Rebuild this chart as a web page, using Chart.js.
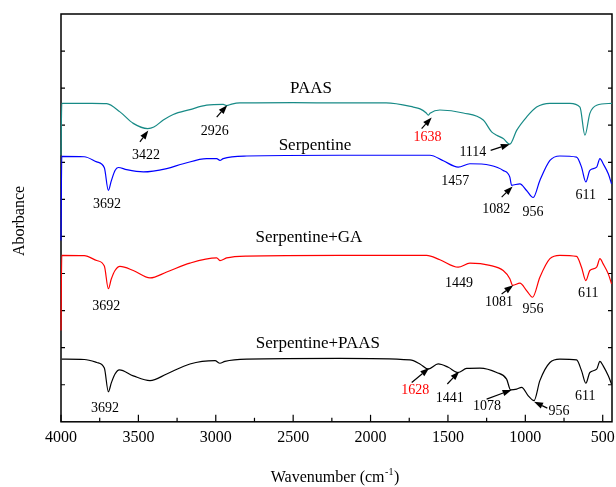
<!DOCTYPE html>
<html>
<head>
<meta charset="utf-8">
<script src="https://cdn.jsdelivr.net/npm/chart.js@4.4.0/dist/chart.umd.min.js"></script>
<style>
  html, body { margin: 0; padding: 0; background: #fff; }
  canvas { display: block; }
</style>
</head>
<body>
<canvas id="myChart" width="616" height="487"></canvas>
<script>
// spectra (wavenumber, offset absorbance)
const paasWn = [4000, 3995, 3800, 3705, 3619, 3533, 3440, 3400, 3339, 3275, 3167, 3059, 2952, 2930, 2897, 2844, 2500, 2200, 1900, 1724, 1680, 1640, 1627, 1616, 1552, 1401, 1272, 1218, 1185, 1143, 1100, 1056, 992, 927, 841, 712, 647, 615, 583, 539, 440];
const paasAbs = [7.19, 8.59, 8.59, 8.58, 8.36, 8.05, 7.91, 7.95, 8.14, 8.29, 8.42, 8.54, 8.56, 8.53, 8.57, 8.6, 8.61, 8.6, 8.6, 8.49, 8.44, 8.33, 8.27, 8.32, 8.41, 8.33, 8.14, 7.82, 7.73, 7.64, 7.49, 7.86, 8.22, 8.49, 8.59, 8.59, 8.49, 7.73, 8.32, 8.54, 8.59];

const serpWn = [4000, 3995, 3850, 3769, 3720, 3694, 3675, 3651, 3630, 3576, 3468, 3317, 3210, 3059, 2994, 2973, 2952, 2800, 2198, 1616, 1530, 1434, 1358, 1229, 1143, 1100, 1089, 1035, 992, 949, 906, 841, 777, 669, 637, 609, 583, 539, 518, 497, 464, 443];
const serpAbs = [4.89, 7.16, 7.15, 7.01, 6.85, 6.24, 6.5, 6.78, 6.86, 6.8, 6.74, 6.83, 6.96, 7.1, 7.1, 7.05, 7.1, 7.17, 7.19, 7.19, 7.04, 6.87, 6.96, 6.92, 6.78, 6.6, 6.38, 6.42, 6.24, 6.05, 6.51, 7.05, 7.17, 7.14, 6.87, 6.47, 6.78, 6.87, 7.1, 6.96, 6.69, 6.42];

const gaWn = [4000, 3995, 3850, 3769, 3720, 3694, 3675, 3651, 3619, 3533, 3425, 3317, 3167, 2994, 2973, 2930, 2800, 2198, 1638, 1552, 1434, 1358, 1229, 1143, 1100, 1082, 1035, 992, 953, 906, 841, 777, 669, 637, 609, 583, 539, 518, 497, 464, 443];
const gaAbs = [2.46, 4.49, 4.48, 4.35, 4.2, 3.59, 3.85, 4.08, 4.19, 4.08, 3.88, 4.04, 4.28, 4.42, 4.35, 4.42, 4.47, 4.49, 4.49, 4.37, 4.17, 4.28, 4.22, 4.08, 3.86, 3.68, 3.74, 3.54, 3.36, 3.9, 4.4, 4.49, 4.46, 4.17, 3.81, 4.08, 4.17, 4.4, 4.26, 3.99, 3.72];

const spWn = [3995, 3850, 3769, 3720, 3694, 3675, 3651, 3623, 3533, 3425, 3317, 3167, 3005, 2973, 2941, 2800, 2198, 1745, 1681, 1627, 1563, 1498, 1434, 1379, 1293, 1185, 1121, 1095, 1056, 1024, 981, 944, 906, 841, 777, 669, 637, 609, 583, 539, 518, 497, 464, 443];
const spAbs = [1.69, 1.68, 1.6, 1.45, 0.81, 1.05, 1.29, 1.4, 1.24, 1.11, 1.29, 1.56, 1.65, 1.58, 1.63, 1.69, 1.71, 1.67, 1.56, 1.42, 1.56, 1.47, 1.33, 1.44, 1.45, 1.33, 1.15, 0.86, 0.88, 0.93, 0.7, 0.57, 1.11, 1.6, 1.69, 1.67, 1.38, 1.04, 1.33, 1.42, 1.63, 1.51, 1.24, 1.02];

const seriesNames = ['PAAS', 'Serpentine', 'Serpentine+GA', 'Serpentine+PAAS'];
const seriesColors = ['#178a86', '#0000ff', '#ff0000', '#000000'];
const xTickValues = [4000, 3500, 3000, 2500, 2000, 1500, 1000, 500];

// peak labels: [text, wavenumber, absorbance, colour, arrow (tail -> head) or null]
const peakLabels = [
  ['3422', 3451, 7.19, '#000', [3490, 7.55, 3436, 7.86]],
  ['2926', 3007, 7.84, '#000', [2994, 8.22, 2926, 8.54]],
  ['1638', 1632, 7.68, '#ff0000', [1670, 7.91, 1605, 8.21]],
  ['1114', 1339, 7.28, '#000', [1224, 7.32, 1100, 7.49]],
  ['3692', 3703, 5.86, '#000', null],
  ['1457', 1453, 6.49, '#000', null],
  ['1082', 1188, 5.73, '#000', [1153, 6.06, 1082, 6.35]],
  ['956', 951, 5.66, '#000', null],
  ['611', 610, 6.11, '#000', null],
  ['3692', 3707, 3.12, '#000', null],
  ['1449', 1429, 3.74, '#000', null],
  ['1081', 1170, 3.22, '#000', [1153, 3.45, 1078, 3.68]],
  ['956', 951, 3.03, '#000', null],
  ['611', 594, 3.47, '#000', null],
  ['3692', 3716, 0.37, '#000', null],
  ['1628', 1712, 0.86, '#ff0000', [1734, 1.06, 1621, 1.45]],
  ['1441', 1489, 0.64, '#000', [1504, 1.02, 1427, 1.36]],
  ['1078', 1248, 0.41, '#000', [1250, 0.61, 1089, 0.86]],
  ['956', 783, 0.28, '#000', [858, 0.37, 944, 0.54]],
  ['611', 613, 0.68, '#000', null]
];
const seriesTitles = [
  ['PAAS', 2385, 9.0],
  ['Serpentine', 2359, 7.46],
  ['Serpentine+GA', 2398, 4.97],
  ['Serpentine+PAAS', 2340, 2.11]
];

const serif = '"Liberation Serif", "Times New Roman", serif';

function pairs(xs, ys) {
  return xs.map((x, i) => ({ x: x, y: ys[i] }));
}

function arrow(ctx, x1, y1, x2, y2) {
  const a = Math.atan2(y2 - y1, x2 - x1);
  const len = 9, half = 3.2;
  const bx = x2 - len * Math.cos(a), by = y2 - len * Math.sin(a);
  ctx.beginPath();
  ctx.moveTo(x1, y1);
  ctx.lineTo(bx, by);
  ctx.lineWidth = 1.2;
  ctx.strokeStyle = '#000';
  ctx.stroke();
  ctx.beginPath();
  ctx.moveTo(x2, y2);
  ctx.lineTo(bx + half * Math.sin(a), by - half * Math.cos(a));
  ctx.lineTo(bx - half * Math.sin(a), by + half * Math.cos(a));
  ctx.closePath();
  ctx.fillStyle = '#000';
  ctx.fill();
}

const decorations = {
  id: 'decorations',
  beforeDatasetsDraw(chart) {
    const ctx = chart.ctx;
    const xs = chart.scales.x, ys = chart.scales.y;
    const area = chart.chartArea;
    ctx.save();
    // frame
    ctx.strokeStyle = '#000';
    ctx.lineWidth = 1.5;
    ctx.strokeRect(area.left, area.top, area.right - area.left, area.bottom - area.top);

    // inward ticks on the bottom axis
    ctx.lineWidth = 1.2;
    for (let v = 500; v <= 4000; v += 250) {
      const px = xs.getPixelForValue(v);
      const len = v % 500 === 0 ? 7 : 4;
      ctx.beginPath();
      ctx.moveTo(px, area.bottom);
      ctx.lineTo(px, area.bottom - len);
      ctx.stroke();
    }
    // inward ticks on left and right
    for (let v = 1; v < 11; v++) {
      const py = ys.getPixelForValue(v);
      ctx.beginPath();
      ctx.moveTo(area.left, py);
      ctx.lineTo(area.left + 4, py);
      ctx.moveTo(area.right, py);
      ctx.lineTo(area.right - 4, py);
      ctx.stroke();
    }
    ctx.restore();
  },
  afterDraw(chart) {
    const ctx = chart.ctx;
    const xs = chart.scales.x, ys = chart.scales.y;
    const area = chart.chartArea;
    ctx.save();
    ctx.textAlign = 'center';
    ctx.textBaseline = 'middle';

    // series names
    ctx.font = '17px ' + serif;
    ctx.fillStyle = '#000';
    seriesTitles.forEach(t => {
      ctx.fillText(t[0], xs.getPixelForValue(t[1]), ys.getPixelForValue(t[2]));
    });

    // peak labels and arrows
    ctx.font = '14px ' + serif;
    peakLabels.forEach(p => {
      ctx.fillStyle = p[3];
      ctx.fillText(p[0], xs.getPixelForValue(p[1]), ys.getPixelForValue(p[2]));
      if (p[4]) {
        const a = p[4];
        arrow(ctx, xs.getPixelForValue(a[0]), ys.getPixelForValue(a[1]),
                   xs.getPixelForValue(a[2]), ys.getPixelForValue(a[3]));
      }
    });

    // x title with superscript
    ctx.fillStyle = '#000';
    ctx.textAlign = 'left';
    ctx.textBaseline = 'alphabetic';
    const main = 'Wavenumber (cm', sup = '-1', end = ')';
    ctx.font = '16px ' + serif;
    const w1 = ctx.measureText(main).width, w3 = ctx.measureText(end).width;
    ctx.font = '10px ' + serif;
    const w2 = ctx.measureText(sup).width;
    const cx = (area.left + area.right) / 2 - 2;
    let x0 = cx - (w1 + w2 + w3) / 2;
    const base = 482;
    ctx.font = '16px ' + serif;
    ctx.fillText(main, x0, base);
    ctx.font = '10px ' + serif;
    ctx.fillText(sup, x0 + w1 + 0.5, base - 7);
    ctx.font = '16px ' + serif;
    ctx.fillText(end, x0 + w1 + w2 + 1, base);

    // y title
    ctx.translate(20, 221);
    ctx.rotate(-Math.PI / 2);
    ctx.textAlign = 'center';
    ctx.textBaseline = 'middle';
    ctx.fillText('Aborbance', 0, 0);
    ctx.restore();
  }
};

const data = {
  datasets: [
    { label: seriesNames[0], data: pairs(paasWn, paasAbs), borderColor: seriesColors[0] },
    { label: seriesNames[1], data: pairs(serpWn, serpAbs), borderColor: seriesColors[1] },
    { label: seriesNames[2], data: pairs(gaWn, gaAbs), borderColor: seriesColors[2] },
    { label: seriesNames[3], data: pairs(spWn, spAbs), borderColor: seriesColors[3] }
  ]
};

const config = {
  type: 'line',
  data: data,
  options: {
    responsive: false,
    devicePixelRatio: 1,
    animation: false,
    layout: { padding: { left: 61, top: 14, right: 4, bottom: 40 } },
    elements: {
      point: { radius: 0 },
      line: { borderWidth: 1.2, tension: 0.35, cubicInterpolationMode: 'monotone' }
    },
    datasets: { line: { clip: 3 } },
    plugins: { legend: { display: false }, tooltip: { enabled: false } },
    scales: {
      x: {
        type: 'linear',
        reverse: true,
        min: 440,
        max: 4000,
        afterBuildTicks: scale => { scale.ticks = xTickValues.map(v => ({ value: v })); },
        grid: { display: true, drawOnChartArea: false, drawTicks: true, tickLength: 6, tickColor: 'rgba(0,0,0,0)' },
        border: { display: false },
        ticks: {
          color: '#000', padding: 0, maxRotation: 0,
          font: { family: serif, size: 16 },
          callback: v => String(v)
        }
      },
      y: {
        min: 0,
        max: 11,
        grid: { display: false, drawTicks: false },
        border: { display: false },
        ticks: { display: false }
      }
    }
  },
  plugins: [decorations]
};

var ctx = document.getElementById('myChart').getContext('2d');
var myChart = new Chart(ctx, config);
</script>
</body>
</html>
